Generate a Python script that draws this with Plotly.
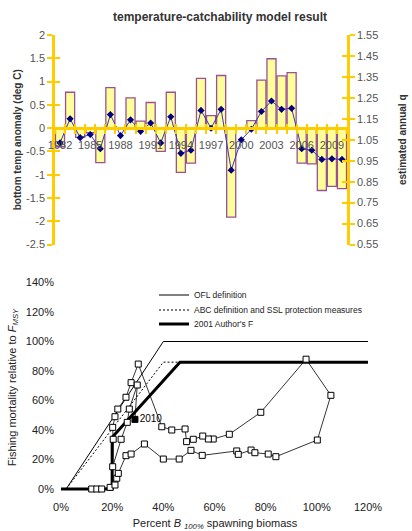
import plotly.graph_objects as go

# ---------------- data: top chart ----------------
years = list(range(1982, 2011))
temp_anomaly = [-0.40, 0.77, -0.20, -0.10, -0.74, 0.87, 0.00, 0.65, 0.15, 0.55,
                -0.50, 0.77, -0.95, -0.75, 1.07, 0.27, 1.13, -1.91, 0.00, 0.16,
                1.03, 1.49, 1.12, 1.19, -0.75, -0.77, -1.34, -1.25, -1.30]
annual_q = [1.035, 1.150, 1.060, 1.075, 1.007, 1.170, 1.070, 1.145, 1.090, 1.130,
            1.035, 1.160, 0.985, 1.000, 1.190, 1.105, 1.195, 0.905, 1.050, 1.100,
            1.185, 1.235, 1.195, 1.200, 1.007, 1.000, 0.956, 0.959, 0.956]
year_labels = [1982, 1985, 1988, 1991, 1994, 1997, 2000, 2003, 2006, 2009]
left_ticks = [2, 1.5, 1, 0.5, 0, -0.5, -1, -1.5, -2, -2.5]
left_tick_text = ["2", "1.5", "1", "0.5", "0", "-0.5", "-1", "-1.5", "-2", "-2.5"]

# ---------------- data: bottom chart ----------------
ofl_x = [2, 40, 120]
ofl_y = [0, 100, 100]
abc_x = [2, 40, 46.5]
abc_y = [0, 86, 86]
auth_x = [0, 20, 20, 46.5, 120]
auth_y = [0, 0, 35, 86, 86]
traj_x = [12.0, 14.0, 15.9, 19.2, 21.1, 21.8, 22.4, 25.4, 27.4, 32.6,
          40.0, 46.2, 50.8, 55.2, 68.7, 69.3, 74.3, 75.8, 81.0, 84.0,
          100.2, 105.5, 95.8, 78.1, 65.8, 59.5, 57.6, 55.4, 51.7, 49.1,
          48.5, 43.3, 39.4, 30.2, 27.4, 25.4, 22.2, 21.1, 20.2, 20.4,
          20.2, 23.5, 25.9, 26.7, 29.8, 28.9]
traj_y = [0.0, 0.0, 0.0, 1.1, 2.7, 7.3, 10.6, 22.6, 23.7, 30.5,
          20.3, 20.3, 26.2, 22.8, 25.8, 23.5, 26.4, 24.6, 23.7, 21.9,
          33.2, 63.5, 88.0, 52.0, 37.1, 33.9, 33.9, 35.9, 33.7, 32.1,
          40.7, 40.0, 42.2, 84.7, 72.1, 62.2, 54.2, 49.0, 41.8, 33.7,
          15.1, 33.7, 45.2, 54.2, 70.5, 47.2]
last_year_label = "2010"
x_ticks = [0, 20, 40, 60, 80, 100, 120]
x_tick_text = ["0%", "20%", "40%", "60%", "80%", "100%", "120%"]
y_ticks = [0, 20, 40, 60, 80, 100, 120, 140]
y_tick_text = ["0%", "20%", "40%", "60%", "80%", "100%", "120%", "140%"]

W, H = 412, 531
YEL = "#FFCC00"
FONT = "Arial, Liberation Sans, sans-serif"

# top chart geometry (paper fractions)
tx0, tx1 = 55 / W, 347 / W
ty0, ty1 = 1 - 244.5 / H, 1 - 35 / H
lmin, lmax = -2.5, 2.0
zero_pos = ty0 + (0 - lmin) / (lmax - lmin) * (ty1 - ty0)

fig = go.Figure()

fig.add_trace(go.Bar(
    x=years, y=temp_anomaly, width=0.9,
    marker=dict(color="#FFFF99", line=dict(color="#9A4F96", width=1.3)),
    xaxis="x", yaxis="y", showlegend=False))
fig.add_trace(go.Scatter(
    x=years, y=annual_q, mode="lines+markers",
    line=dict(color="#3535C8", width=1),
    marker=dict(symbol="diamond", size=5.5, color="#000080"),
    xaxis="x", yaxis="y2", showlegend=False))

# bottom chart
fig.add_trace(go.Scatter(x=ofl_x, y=ofl_y, mode="lines", name="OFL definition",
                         line=dict(color="black", width=1), xaxis="x4", yaxis="y5",
                         legend="legend"))
fig.add_trace(go.Scatter(x=abc_x, y=abc_y, mode="lines",
                         name="ABC definition and SSL protection measures",
                         line=dict(color="black", width=1, dash="2px,2px"),
                         xaxis="x4", yaxis="y5", legend="legend2"))
fig.add_trace(go.Scatter(x=auth_x, y=auth_y, mode="lines", name="2001 Author's F",
                         line=dict(color="black", width=3), xaxis="x4", yaxis="y5",
                         legend="legend3"))
fig.add_trace(go.Scatter(x=traj_x, y=traj_y, mode="lines+markers", showlegend=False,
                         line=dict(color="black", width=0.8),
                         marker=dict(symbol="square", size=6, color="white",
                                     line=dict(color="black", width=1)),
                         cliponaxis=False, xaxis="x4", yaxis="y5"))
fig.add_trace(go.Scatter(x=[traj_x[-1]], y=[traj_y[-1]], mode="markers+text",
                         text=[last_year_label], textposition="middle right",
                         textfont=dict(size=10, color="black", family=FONT),
                         marker=dict(symbol="square", size=6, color="black"),
                         showlegend=False, cliponaxis=False, xaxis="x4", yaxis="y5"))

tick_font = dict(family=FONT, size=11, color="#555555")
leg_common = dict(xanchor="left", yanchor="middle", bgcolor="rgba(0,0,0,0)",
                  font=dict(size=8.5, color="#222222", family=FONT), itemwidth=30)

fig.update_layout(
    width=W, height=H, margin=dict(l=0, r=0, t=0, b=0, autoexpand=False),
    paper_bgcolor="white", plot_bgcolor="rgba(0,0,0,0)",
    font=dict(family=FONT),
    # ---- top chart axes ----
    xaxis=dict(domain=[tx0, tx1], range=[1981.5, 2010.5], anchor="free",
               position=zero_pos, showline=False, showgrid=False, zeroline=False,
               tickmode="array", tickvals=year_labels, ticks="",
               tickfont=tick_font, automargin=False, ticklabelstandoff=9),
    xaxis2=dict(domain=[tx0, tx1], range=[1981.5, 2010.5], anchor="free",
                position=zero_pos, overlaying="x", showline=True, linecolor=YEL,
                linewidth=2.5, showgrid=False, zeroline=False, showticklabels=False,
                tick0=1981.5, dtick=1, ticks="outside", ticklen=4, tickwidth=2,
                tickcolor=YEL, automargin=False),
    xaxis3=dict(domain=[tx0, tx1], range=[1981.5, 2010.5], anchor="free",
                position=zero_pos, overlaying="x", showline=False,
                showgrid=False, zeroline=False, showticklabels=False,
                tick0=1981.5, dtick=1, ticks="inside", ticklen=4, tickwidth=2,
                tickcolor=YEL, automargin=False),
    yaxis=dict(domain=[ty0, ty1], range=[lmin, lmax], anchor="x",
               showline=True, linecolor=YEL, linewidth=2.5, showgrid=False,
               zeroline=False, tickmode="array", tickvals=left_ticks,
               ticktext=left_tick_text, ticks="outside", ticklen=5, tickwidth=2,
               tickcolor=YEL, tickfont=tick_font, automargin=False,
               title=dict(text="<b>bottom temp anomaly (deg C)</b>", standoff=3,
                          font=dict(size=10, color="#333333", family=FONT))),
    yaxis2=dict(domain=[ty0, ty1], range=[0.55, 1.55], overlaying="y", side="right",
                anchor="x", showline=True, linecolor=YEL, linewidth=2.5,
                showgrid=False, zeroline=False, tick0=0.55, dtick=0.1,
                tickformat=".2f", ticks="outside", ticklen=5, tickwidth=2,
                tickcolor=YEL, tickfont=tick_font, automargin=False,
                title=dict(text="<b>estimated annual q</b>", standoff=22,
                           font=dict(size=10, color="#333333", family=FONT))),
    yaxis3=dict(domain=[ty0, ty1], range=[lmin, lmax], overlaying="y", anchor="x",
                showline=False, showgrid=False, zeroline=False,
                showticklabels=False, tickmode="array", tickvals=left_ticks,
                ticks="inside", ticklen=5, tickwidth=2, tickcolor=YEL,
                automargin=False),
    yaxis4=dict(domain=[ty0, ty1], range=[0.55, 1.55], overlaying="y", side="right",
                anchor="x", showline=False, showgrid=False, zeroline=False,
                showticklabels=False, tick0=0.55, dtick=0.1,
                ticks="inside", ticklen=5, tickwidth=2, tickcolor=YEL,
                automargin=False),
    # ---- bottom chart axes ----
    xaxis4=dict(domain=[55 / W, 375 / W], range=[-2.35, 122.75], anchor="y5",
                showline=False, showgrid=False, zeroline=False,
                tickmode="array", tickvals=x_ticks, ticktext=x_tick_text,
                tickfont=dict(family=FONT, size=11, color="#222222"),
                automargin=False, ticklabelstandoff=4,
                title=dict(text="Percent <i>B</i> <sub><i>100%</i></sub> spawning biomass",
                           standoff=8,
                           font=dict(size=11, color="#222222", family=FONT))),
    yaxis5=dict(domain=[1 - 495 / H, 1 - 280 / H], range=[-4.07, 141.7],
                anchor="x4", showline=False, showgrid=False, zeroline=False,
                tickmode="array", tickvals=y_ticks, ticktext=y_tick_text,
                tickfont=dict(family=FONT, size=11, color="#222222"),
                automargin=False,
                title=dict(text="Fishing mortality relative to <i>F</i><sub><i>MSY</i></sub>",
                           standoff=7,
                           font=dict(size=11, color="#222222", family=FONT))),
    legend=dict(x=154 / W, y=1 - 295 / H, **leg_common),
    legend2=dict(x=154 / W, y=1 - 310 / H, **leg_common),
    legend3=dict(x=154 / W, y=1 - 324 / H, **leg_common),
    title=dict(text="<b>temperature-catchability model result</b>",
               x=220 / W, xanchor="center", y=1 - 17 / H, yanchor="middle",
               font=dict(size=12, color="#333333", family=FONT)),
)

# dummy invisible traces to activate overlay axes
for xa, ya in [("x2", "y"), ("x3", "y"), ("x", "y3"), ("x", "y4")]:
    fig.add_trace(go.Scatter(x=[None], y=[None], xaxis=xa, yaxis=ya,
                             showlegend=False, hoverinfo="skip"))

fig.write_html("out.html", config={"displayModeBar": False},
               post_script="document.body.style.margin='0px';document.body.style.padding='0px';")
